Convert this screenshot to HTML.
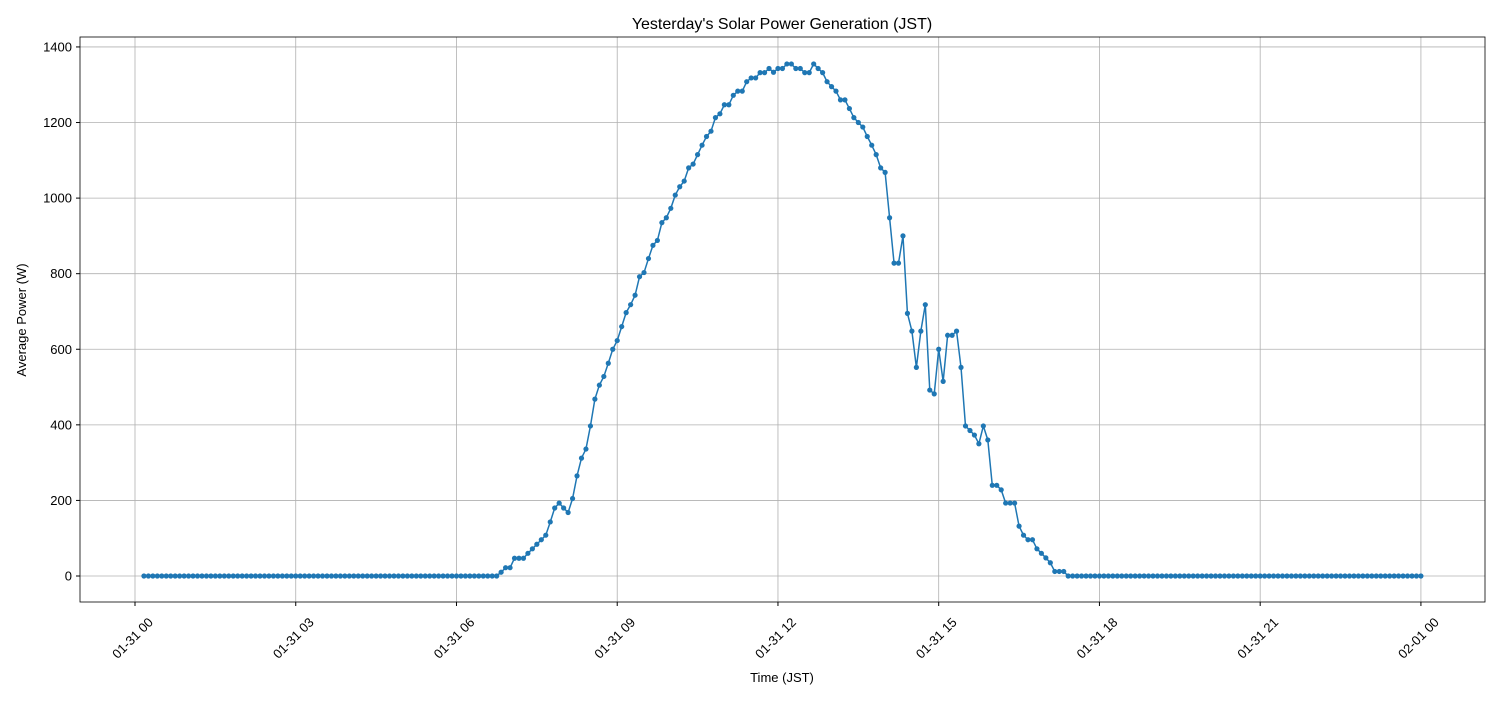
<!DOCTYPE html>
<html><head><meta charset="utf-8"><style>
body{margin:0;background:#fff;}
svg{font-family:"Liberation Sans","DejaVu Sans",sans-serif;}
</style></head><body>
<svg id="s" width="1500" height="700" xmlns="http://www.w3.org/2000/svg">
<rect width="1500" height="700" fill="#fff"/>
<g id="grid" stroke="#b0b0b0" stroke-width="0.8"></g>
<path id="line" fill="none" stroke="#1f77b4" stroke-width="1.5"/>
<g id="pts" fill="#1f77b4"></g>
<rect x="80" y="37" width="1405" height="565" fill="none" stroke="#000" stroke-width="0.8"/>
<g id="ticks" font-size="13" fill="#000"></g>
<text x="782" y="29" font-size="16" text-anchor="middle">Yesterday's Solar Power Generation (JST)</text>
<text x="782" y="682" font-size="13" text-anchor="middle">Time (JST)</text>
<text transform="translate(26,320) rotate(-90)" font-size="13" text-anchor="middle">Average Power (W)</text>
</svg>
<script>
const NS="http://www.w3.org/2000/svg";
const X=h=>135+h*53.58, Y=v=>576-v*0.3779;
const g=document.getElementById('grid'),t=document.getElementById('ticks');
function el(p,tag,a,txt){const e=document.createElementNS(NS,tag);for(const k in a)e.setAttribute(k,a[k]);if(txt)e.textContent=txt;p.appendChild(e);return e;}
const xl=["01-31 00","01-31 03","01-31 06","01-31 09","01-31 12","01-31 15","01-31 18","01-31 21","02-01 00"];
xl.forEach((l,i)=>{const x=X(i*3);el(g,'line',{x1:x,x2:x,y1:37,y2:602});el(t,'line',{x1:x,x2:x,y1:602,y2:606,stroke:'#000'});
el(t,'text',{transform:`translate(${x-2.5},638) rotate(-45)`,'text-anchor':'middle',dy:'0.35em'},l);});
for(let v=0;v<=1400;v+=200){const y=Y(v);el(g,'line',{x1:80,x2:1485,y1:y,y2:y});el(t,'line',{x1:76,x2:80,y1:y,y2:y,stroke:'#000'});
el(t,'text',{x:72,y:y+4.5,'text-anchor':'end'},String(v));}
const vals=[10,22,22,47,47,47,60,72,84,96,108,143,180,193,180,168,205,265,312,336,397,468,505,528,563,600,623,660,697,718,743,792,803,840,875,888,935,948,973,1008,1030,1045,1080,1090,1115,1140,1163,1177,1213,1223,1247,1247,1272,1283,1283,1308,1318,1318,1332,1332,1343,1333,1343,1343,1355,1355,1343,1343,1332,1332,1355,1343,1332,1308,1295,1283,1260,1260,1237,1213,1200,1188,1163,1140,1115,1080,1068,948,828,828,900,695,648,552,648,718,492,482,600,515,637,637,648,552,397,385,373,350,397,360,240,240,228,193,193,193,132,108,96,96,72,60,48,35,12,12,12];
const start=Math.round((499-135)/4.465)-2;
const data=[];
for(let i=0;i<287;i++){let v=0;const j=i-start;if(j>=0&&j<vals.length)v=vals[j];data.push(v);}
let d="";const p=document.getElementById('pts');
data.forEach((v,i)=>{const h=(i+2)*5/60;const x=X(h),y=Y(v);d+=(i?"L":"M")+x.toFixed(2)+","+y.toFixed(2);el(p,'circle',{cx:x.toFixed(2),cy:y.toFixed(2),r:2.6});});
document.getElementById('line').setAttribute('d',d);
</script>
</body></html>
